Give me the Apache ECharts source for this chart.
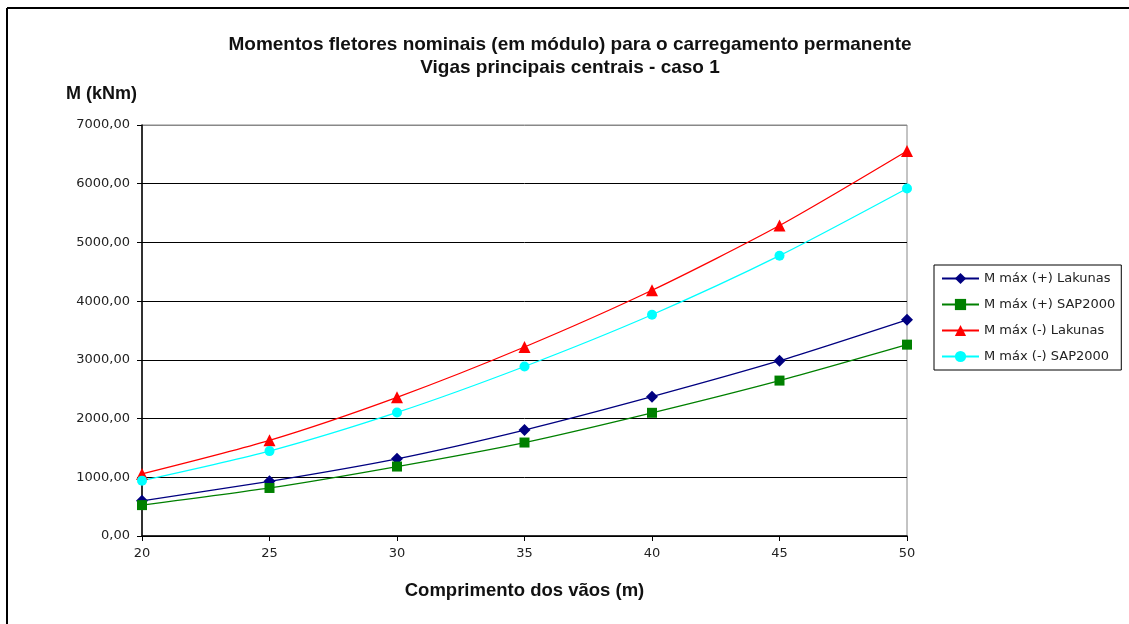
<!DOCTYPE html>
<html>
<head>
<meta charset="utf-8">
<script src="https://cdn.jsdelivr.net/npm/echarts@6/dist/echarts.min.js"></script>
<style>
html,body{margin:0;padding:0;background:#fff;}
#c{width:1129px;height:624px;}
</style>
</head>
<body>
<div id="c"></div>
<script>
const spans = [20, 25, 30, 35, 40, 45, 50];
const posLakunas = [600, 931, 1315, 1805, 2373, 2985, 3682];
const posSap = [526, 818, 1183, 1592, 2098, 2647, 3259];
const negLakunas = [1058, 1629, 2362, 3219, 4185, 5288, 6558];
const negSap = [943, 1446, 2104, 2887, 3768, 4774, 5918];
const seriesNames = ['M máx (+) Lakunas', 'M máx (+) SAP2000', 'M máx (-) Lakunas', 'M máx (-) SAP2000'];
const titleLines = ['Momentos fletores nominais (em módulo) para o carregamento permanente', 'Vigas principais centrais - caso 1'];
const yName = 'M (kNm)';
const xName = 'Comprimento dos vãos (m)';

const pair = arr => spans.map((x, i) => [x, arr[i]]);
const boldFont = 'Liberation Sans';
const smallFont = 'DejaVu Sans';

const chart = echarts.init(document.getElementById('c'), null, {renderer: 'canvas'});
function mk(name, data, color, symbol, size) {
  return {
    name: name, type: 'line', data: pair(data), smooth: 0.25,
    symbol: symbol, symbolSize: size,
    lineStyle: {color: color, width: 1.3},
    itemStyle: {color: color},
    emphasis: {disabled: true}
  };
}
chart.setOption({
  animation: false,
  backgroundColor: '#fff',
  textStyle: {fontFamily: boldFont},
  title: {
    text: titleLines.join('\n'),
    left: 570, textAlign: 'center', top: 33, padding: 0,
    textStyle: {fontFamily: boldFont, fontSize: 19, fontWeight: 'bold', color: '#111', lineHeight: 23}
  },
  grid: {left: 142, right: 222, top: 125, bottom: 88, show: true, borderColor: '#888', borderWidth: 1, backgroundColor: '#fff'},
  legend: {
    orient: 'vertical', left: 934, top: 265,
    padding: [7, 6, 7, 7], itemGap: 13, itemWidth: 37, itemHeight: 14,
    borderColor: '#000', borderWidth: 1,
    textStyle: {fontFamily: smallFont, fontSize: 13, color: '#222'},
    data: seriesNames
  },
  xAxis: {
    type: 'value', min: 20, max: 50, interval: 5,
    name: xName, nameLocation: 'middle', nameGap: 45,
    nameTextStyle: {fontFamily: boldFont, fontSize: 18.5, fontWeight: 'bold', color: '#111'},
    axisLine: {lineStyle: {color: '#000', width: 1.5}},
    axisTick: {show: true, length: 5, lineStyle: {color: '#000'}},
    axisLabel: {fontFamily: smallFont, fontSize: 13, color: '#222', margin: 11},
    splitLine: {show: false}
  },
  yAxis: {
    type: 'value', min: 0, max: 7000, interval: 1000,
    name: yName, nameLocation: 'end', nameGap: 0,
    nameTextStyle: {fontFamily: boldFont, fontSize: 18, fontWeight: 'bold', color: '#111', align: 'right', padding: [0, 5, 22, 0]},
    axisLine: {show: true, lineStyle: {color: '#000', width: 1.5}},
    axisTick: {show: true, length: 5, lineStyle: {color: '#000'}},
    axisLabel: {fontFamily: smallFont, fontSize: 13, color: '#222', margin: 12,
      formatter: v => v.toFixed(2).replace('.', ',')},
    splitLine: {show: true, lineStyle: {color: ['#000', '#000', '#000', '#000', '#000', '#000', '#000', '#888'], width: 1}}
  },
  graphic: [
    {type: 'line', shape: {x1: 7, y1: 8, x2: 7, y2: 624}, style: {stroke: '#000', lineWidth: 2}},
    {type: 'line', shape: {x1: 7, y1: 8, x2: 1129, y2: 8}, style: {stroke: '#000', lineWidth: 2}}
  ],
  series: [
    mk(seriesNames[0], posLakunas, '#000080', 'diamond', 12),
    mk(seriesNames[1], posSap, '#008000', 'rect', 10),
    mk(seriesNames[2], negLakunas, '#ff0000', 'triangle', 12),
    mk(seriesNames[3], negSap, '#00ffff', 'circle', 10)
  ]
});
</script>
</body>
</html>
